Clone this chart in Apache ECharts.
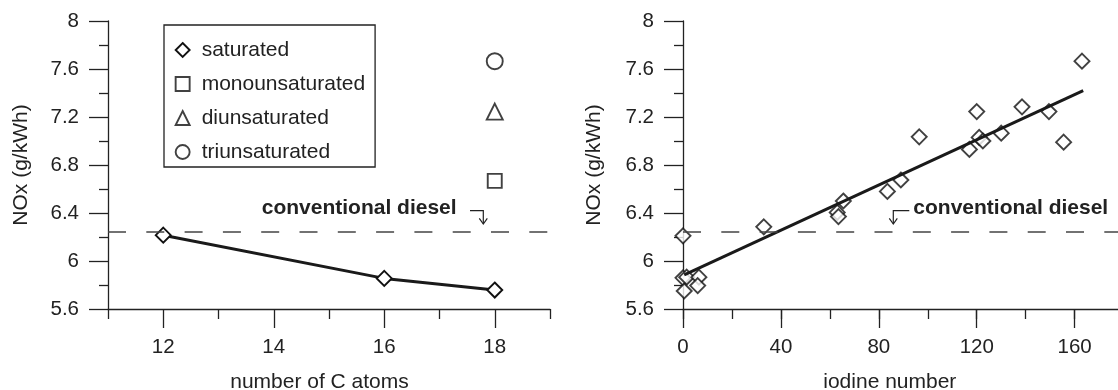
<!DOCTYPE html>
<html>
<head>
<meta charset="utf-8">
<script src="https://cdn.jsdelivr.net/npm/echarts@6/dist/echarts.min.js"></script>
<style>
  html, body { margin: 0; background: #fff; }
  #chart { width: 1118px; height: 390px; }
</style>
</head>
<body>
<div id="chart"></div>
<script>
// left panel: NOx vs chain length
const carbonAtoms = [12, 16, 18];
const saturatedNOx = [6.215, 5.855, 5.758];
const monoPoint = [18, 6.668];
const diPoint = [18, 7.245];
const triPoint = [18, 7.665];

// right panel: NOx vs iodine number
const iodineValues = [0, 0, 1.5, 0.5, 6.5, 6, 33, 63, 63.5, 65.5, 83.5, 89, 96.5, 117, 120, 121, 122.5, 130, 138.5, 149.5, 155.5, 163];
const iodineNOx = [6.21, 5.86, 5.865, 5.75, 5.865, 5.795, 6.285, 6.405, 6.37, 6.5, 6.58, 6.675, 7.035, 6.93, 7.245, 7.03, 7.0, 7.065, 7.285, 7.245, 6.99, 7.665];
const fitX = [0.5, 163.5];
const fitY = [5.885, 7.42];

const dieselNOx = 6.235;
const legendNames = ['saturated', 'monounsaturated', 'diunsaturated', 'triunsaturated'];

const FONT = '"Liberation Sans", Arial, sans-serif';
const INK = '#222';

const zip = (xs, ys) => xs.map((x, i) => [x, ys[i]]);

const hollow = { color: '#fff', borderColor: '#111', borderWidth: 1.9 };

const dieselLine = {
  silent: true,
  symbol: 'none',
  label: { show: false },
  lineStyle: { type: [18, 20.3], color: '#444', width: 1.5 },
  data: [{ yAxis: dieselNOx }]
};

function yAxisFor(grid, gap) {
  return {
    type: 'value', gridIndex: grid, min: 5.6, max: 8, interval: 0.4,
    name: 'NOx (g/kWh)', nameLocation: 'middle', nameGap: gap,
    nameTextStyle: { fontSize: 21, color: INK, fontFamily: FONT },
    axisLine: { show: true, lineStyle: { color: INK, width: 1.3 } },
    axisTick: { show: true, length: 19, lineStyle: { color: INK, width: 1.3 } },
    minorTick: { show: true, splitNumber: 2, length: 9, lineStyle: { color: INK, width: 1.3 } },
    axisLabel: { fontSize: 20.5, color: INK, fontFamily: FONT, margin: 29 },
    splitLine: { show: false }
  };
}

const chart = echarts.init(document.getElementById('chart'));

chart.setOption({
  animation: false,
  backgroundColor: '#fff',
  grid: [
    { left: 108, top: 21, width: 442, height: 288, outerBoundsMode: 'none' },
    { left: 683, top: 21, width: 440.6, height: 288, outerBoundsMode: 'none' }
  ],
  xAxis: [
    // left: line, odd ticks short, even ticks long via minor ticks
    {
      type: 'value', gridIndex: 0, min: 11, max: 19, interval: 2,
      name: 'number of C atoms', nameLocation: 'middle', nameGap: 63,
      nameTextStyle: { fontSize: 21, color: INK, fontFamily: FONT, padding: [0, 19, 0, 0] },
      axisLine: { show: true, lineStyle: { color: INK, width: 1.3 } },
      axisTick: { show: true, length: 10, lineStyle: { color: INK, width: 1.3 } },
      minorTick: { show: true, splitNumber: 2, length: 19, lineStyle: { color: INK, width: 1.3 } },
      axisLabel: { show: false },
      splitLine: { show: false }
    },
    // left: labels only
    {
      type: 'value', gridIndex: 0, min: 11, max: 19, interval: 1, position: 'bottom',
      axisLine: { show: false }, axisTick: { show: false }, splitLine: { show: false },
      axisLabel: {
        fontSize: 20.5, color: INK, fontFamily: FONT, margin: 28,
        formatter: v => (v % 2 === 0 ? String(v) : '')
      }
    },
    // right: line, short ticks every 20, labels every 40
    {
      type: 'value', gridIndex: 1, min: 0, max: 180, interval: 20,
      name: 'iodine number', nameLocation: 'middle', nameGap: 63,
      nameTextStyle: { fontSize: 21, color: INK, fontFamily: FONT, padding: [0, 27, 0, 0] },
      axisLine: { show: true, lineStyle: { color: INK, width: 1.3 } },
      axisTick: { show: true, length: 10, lineStyle: { color: INK, width: 1.3 } },
      axisLabel: {
        fontSize: 20.5, color: INK, fontFamily: FONT, margin: 28,
        formatter: v => (v % 40 === 0 && v < 180 ? String(v) : '')
      },
      splitLine: { show: false }
    },
    // right: long ticks every 40
    {
      type: 'value', gridIndex: 1, min: 0, max: 180, interval: 40, position: 'bottom',
      axisLine: { show: false }, axisLabel: { show: false }, splitLine: { show: false },
      axisTick: { show: true, length: 19, lineStyle: { color: INK, width: 1.3 } }
    }
  ],
  yAxis: [yAxisFor(0, 76), yAxisFor(1, 78)],
  legend: {
    data: legendNames.map((n, i) => ({ name: n, icon: ['diamond', 'rect', 'triangle', 'circle'][i] })),
    orient: 'vertical',
    left: 164, top: 25,
    itemWidth: 14, itemHeight: 14, itemGap: 4,
    padding: [10, 10, 0, 10.7],
    borderColor: INK, borderWidth: 1.3,
    selectedMode: false,
    itemStyle: hollow,
    textStyle: { fontSize: 21, color: INK, fontFamily: FONT, lineHeight: 30, padding: [0, 0, 0, 7] }
  },
  series: [
    {
      name: legendNames[0], type: 'line', xAxisIndex: 0, yAxisIndex: 0,
      data: zip(carbonAtoms, saturatedNOx),
      symbol: 'diamond', symbolSize: 15,
      lineStyle: { color: '#1a1a1a', width: 3 },
      itemStyle: hollow,
      markLine: dieselLine
    },
    {
      name: legendNames[1], type: 'scatter', xAxisIndex: 0, yAxisIndex: 0,
      data: [monoPoint], symbol: 'rect', symbolSize: 14, itemStyle: hollow
    },
    {
      name: legendNames[2], type: 'scatter', xAxisIndex: 0, yAxisIndex: 0,
      data: [diPoint], symbol: 'triangle', symbolSize: 16, itemStyle: hollow
    },
    {
      name: legendNames[3], type: 'scatter', xAxisIndex: 0, yAxisIndex: 0,
      data: [triPoint], symbol: 'circle', symbolSize: 16, itemStyle: hollow
    },
    {
      name: 'iodine', type: 'scatter', xAxisIndex: 2, yAxisIndex: 1,
      data: zip(iodineValues, iodineNOx),
      symbol: 'diamond', symbolSize: 15, itemStyle: hollow,
      markLine: dieselLine
    },
    {
      name: 'fit', type: 'line', xAxisIndex: 2, yAxisIndex: 1,
      data: zip(fitX, fitY), symbol: 'none',
      lineStyle: { color: '#1a1a1a', width: 3 }, z: 3
    }
  ],
  graphic: [
    {
      type: 'text', x: 261.7, y: 208.5,
      style: { text: 'conventional diesel', fontSize: 21, fontWeight: 'bold', fontFamily: FONT, fill: INK, verticalAlign: 'middle' }
    },
    {
      type: 'polyline', shape: { points: [[470, 210.7], [483.3, 210.7], [483.3, 223.5]] },
      style: { stroke: INK, lineWidth: 1.2, fill: null }
    },
    {
      type: 'polyline', shape: { points: [[479.3, 218.3], [483.3, 224], [487.3, 218.3]] },
      style: { stroke: INK, lineWidth: 1.2, fill: null }
    },
    {
      type: 'text', x: 913.3, y: 208.5,
      style: { text: 'conventional diesel', fontSize: 21, fontWeight: 'bold', fontFamily: FONT, fill: INK, verticalAlign: 'middle' }
    },
    {
      type: 'polyline', shape: { points: [[909.3, 210.7], [893.3, 210.7], [893.3, 223.5]] },
      style: { stroke: INK, lineWidth: 1.2, fill: null }
    },
    {
      type: 'polyline', shape: { points: [[889.3, 218.3], [893.3, 224], [897.3, 218.3]] },
      style: { stroke: INK, lineWidth: 1.2, fill: null }
    }
  ]
});
</script>
</body>
</html>
